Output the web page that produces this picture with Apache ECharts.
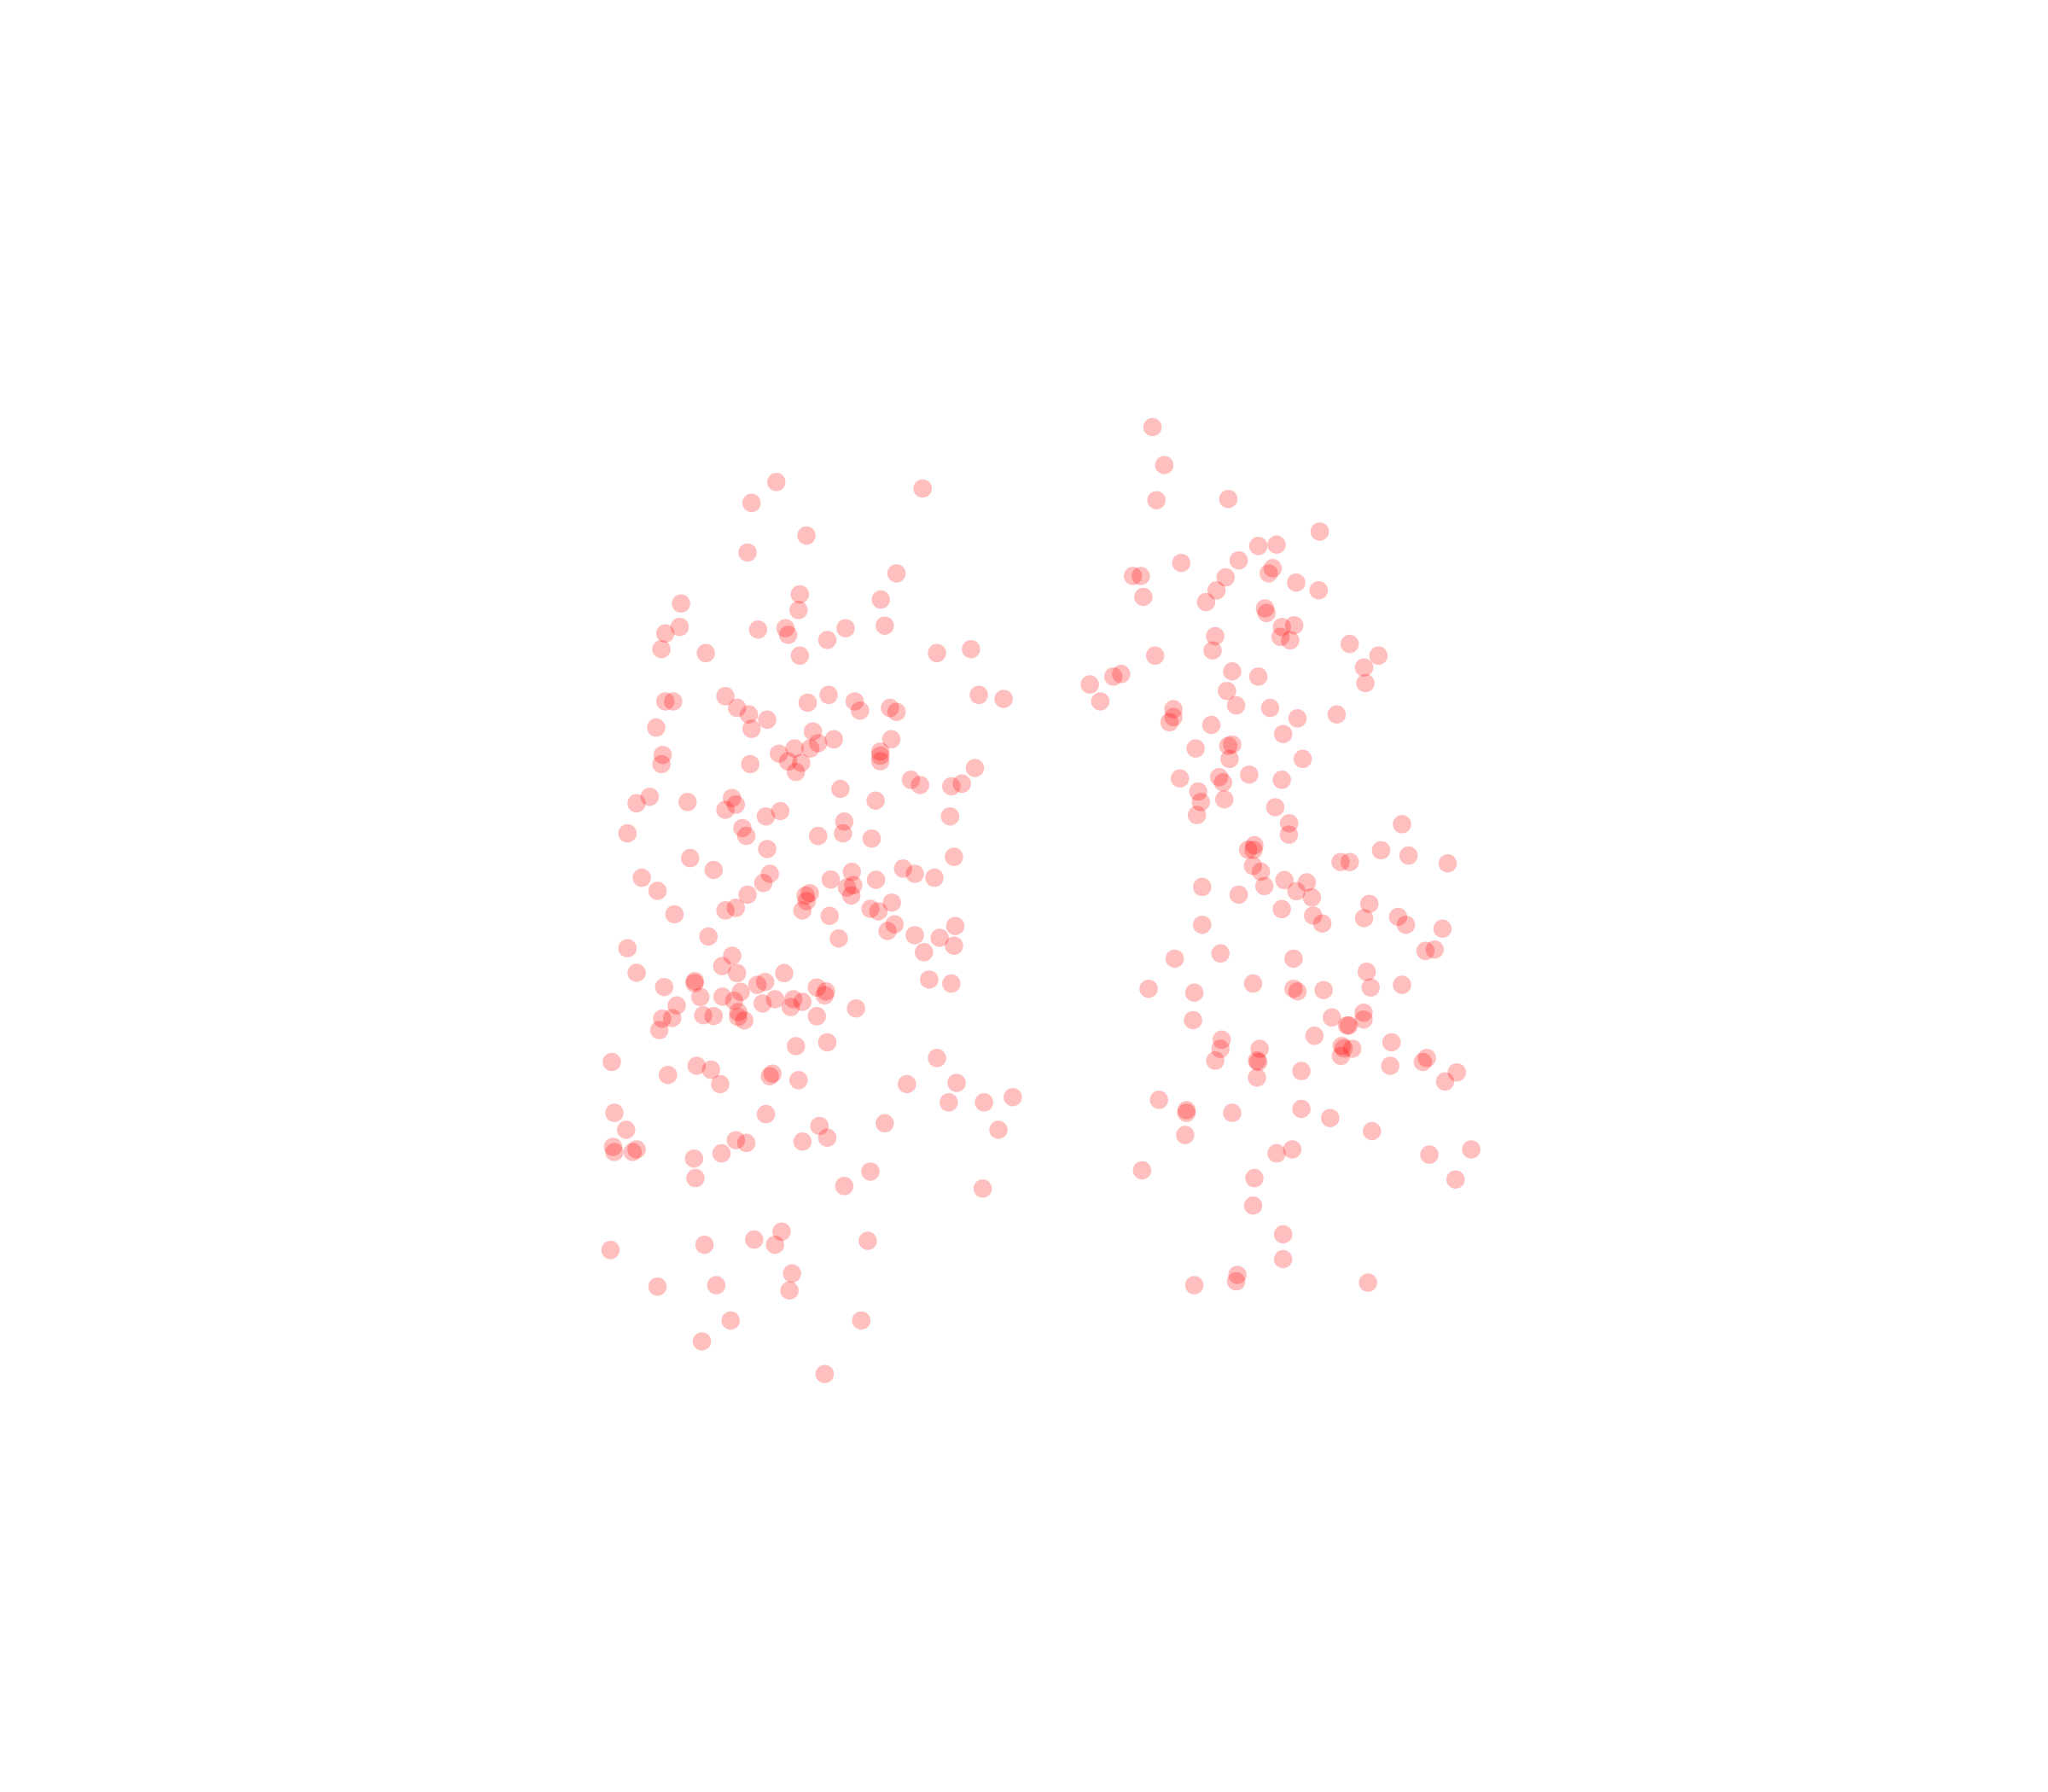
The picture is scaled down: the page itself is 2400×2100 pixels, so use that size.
<!DOCTYPE html>
<html>
<head>
<meta charset="utf-8">
<style>html,body{margin:0;padding:0;background:#fff}#c{width:2400px;height:2100px}</style>
<script src="https://cdn.jsdelivr.net/npm/echarts@6/dist/echarts.min.js"></script>
</head>
<body>
<div id="c"></div>
<script>
const clusterA = [
[594,369],[575,385],[706,374],[617,410],[572,423],[686,439],[612,455],[611,467],[674,459],[521,462],[520,480],[509,485],[506,497],[540,500],[580,482],[601,481],[603,486],[633,490],[647,481],[677,479],[612,502],[717,500],[743,497],
[509,537],[515,537],[555,533],[564,542],[573,547],[587,551],[575,558],[502,557],[618,538],[634,532],[654,537],[658,544],[681,542],[686,545],[749,532],[768,535],
[622,560],[638,566],[682,566],[626,569],[620,573],[608,573],[596,577],[603,583],[613,584],[609,591],[574,585],[507,578],[506,585],[673.6,575.4],[673.6,578.6],[673.6,582.8],[746,588],[736,600],[728,602],[697,597],[704,601],[643,604],[670,613],
[487,615],[497,610],[526,614],[560,611],[563,616],[555,620],[586,625],[597,621],[727,625],[646,629],[645,638],[626,640],[667,642],[568,634],[571,640],[480,638],[587,650],
[528,657],[546,666],[589,669],[584,676],[491,672],[503,682],[572,685],[555,697],[563,695],[516,700],[730,656],[691,665],[700,669],[715,672],[670.3,673.6],[651.8,667.5],[635.7,673.4],[648.1,679.5],[652.9,677.7],[651.4,685.6],[616.4,685.6],[619.6,683.8],[617.2,689.9],[613.9,697.1],[634.8,701.2],[666,695.8],[672.1,697.7],[682.4,691],[684.5,707.7],[679.1,712.8],[641.8,718.5],[700,716],[719,718],[731,709],[730,724],[707,729],
[480,726],[542,717],[560.2,731.7],[552.5,739.6],[563.9,745],[487,744.8],[531.6,751.1],[531.4,752.7],[508.1,755.7],[535.8,763.3],[552.8,763.1],[561.7,766.2],[566.7,759.4],[579.5,754],[585.4,751.8],[600,745],[593,765],[583.5,768.3],[605,771],[607,765],[614,767],[625,756],[632,759],[631,762],[655,772],[625,778],[711,750],[728,753],
[517.7,769.8],[506.6,779.9],[514.2,779.4],[504.4,788.6],[538,777.3],[546,777.9],[564.9,774.9],[564.7,778.6],[569.5,781.2],
[609,801],[633,798],[468,813],[533,816],[544,819],[551,830],[511,823],[589,824],[591,822],[611,827],[717,810],[694,830],[732,829],[726,844],[753,844],[775,840],
[470,852],[479,865],[469,878],[470,882],[484,882],[487,880],[586,853],[627,862],[677,860],[764,865],[563,873],[571,875],[614,874],[633,871],[531,887],[552,883],[532,902],[666,897],[646,908],[752,910],
[539,953],[577,949],[598,943],[593,953],[664,950],[467,957],[606,975],[503,985],[548,984],[604,988],[559,1011],[659,1011],[537,1027],[631,1052]
];
const clusterB = [
[882,327],[891,356],[885,383],[940,382],[1010,407],[977,417],[963,418],[948,429],[904,431],[974,435],[971,439],[938,442],[867,441],[873,441],[992,446],[1009.2,451.9],[931,452],[875,457],[923,461],[968.1,465.8],[969.3,469.3],[990.5,478.7],[981.1,480],[980,487.6],[987.4,490.2],[930,487],[928,498],[884,502],[1033,493],[1055,502],[1044,511],[1045,523],
[834,524],[852,518],[858,516],[842,537],[943,514],[963,518],[939,529],[946,540],[972,542],[993,550],[1023,547],[898,543],[898,549],[895,553],[927,555],[982,562],[915,573],[940,571],[943,570],[941,581],[997,581],[903,596],[933,595],[936,599],[956,593],[981,597],[917,606],[919,614],[937,612],[916,624],[976,618],
[986.6,630.3],[986.4,639],[1073,631],[955.2,650.5],[960,647.2],[959.3,650.7],[958.9,662.9],[965,667.3],[1026,660],[1033,660],[1057,651],[1078,655],[1108,661],[983,673.8],[967.6,678.4],[1000.1,675.6],[992.2,682.3],[1004,687],[920,679],[948,685],[981,696],[1005,701],[1012,707],[1048,692],[1044,703],[1070,702],[1076,708],[1104,711],[920,708],[1091,728],[1098,727],[934,730],[899,734],[990,734],[1046,744],[959,753],[990,757],[993,759],[1013,758],[1049,756],[1073,754],[879,757],[914,760],
[913,781],[1019.3,779],[1043.6,775.3],[1043.6,780.5],[1031,785.1],[1032.3,785.1],[1006,793],[935,796],[934,803],[964,803],[930,812],[962,812],[963,813],[1026.9,800.8],[1028.4,802.7],[1034.9,802.9],[1026.2,808.4],[1065,798],[1064,816],[1092,810],[1089,813],[1115,821],[1106,828],[996,820],[962,825],[887,842],[908,850],[908,852],[943,852],[996,849],[1018,856],[907,869],[1050,866],[1126,880],[1094,884],[989,880],[977,883],[874,896],[1114,903],[960,902],[959,923],[982,945],[982,964],[947,976],[946,981],[914,984],[1047,982]
];
const xRange = [-0.4, 1567.6];
const yRange = [0, 1372];

const chart = echarts.init(document.getElementById('c'), null, {renderer: 'canvas'});
const pointStyle = {color: 'rgb(255,0,0)', opacity: 0.25};
chart.setOption({
  animation: false,
  backgroundColor: '#ffffff',
  grid: {left: 0, right: 0, top: 0, bottom: 0},
  xAxis: {type: 'value', min: xRange[0], max: xRange[1], show: false},
  yAxis: {type: 'value', min: yRange[0], max: yRange[1], inverse: true, show: false},
  series: [clusterA, clusterB].map(d => ({
    type: 'scatter', data: d, symbol: 'circle', symbolSize: 21.5,
    itemStyle: pointStyle, silent: true
  }))
});
</script>
</body>
</html>
